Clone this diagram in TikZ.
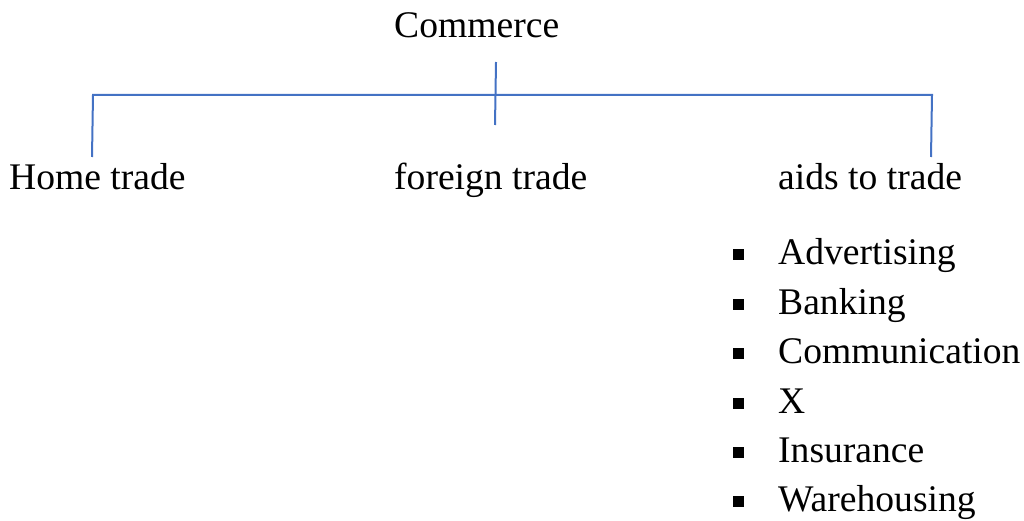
\documentclass[tikz,border=0pt]{standalone}
\usepackage{fontspec}
\setmainfont{Liberation Serif}
\definecolor{lineblue}{RGB}{68,114,196}
\begin{document}
\begin{tikzpicture}[x=1pt,y=-1pt,
  txt/.style={inner sep=0pt, anchor=base west, font=\fontsize{37.6}{44}\selectfont},
  conn/.style={draw=lineblue, line width=2pt},
  bul/.style={fill=black, draw=none, minimum size=11pt, inner sep=0pt}]
\useasboundingbox (0,0) rectangle (1024,521);
\node[txt] (commerce) at (394,38) {Commerce};
\node[txt] (home) at (9,190) {Home trade};
\node[txt] (foreign) at (394,190) {foreign trade};
\node[txt] (aids) at (778,190) {aids to trade};
\coordinate (ctop) at (496,62);
\coordinate (cbot) at (495,125);
\coordinate (hl) at (93,95);
\coordinate (hr) at (932,95);
\coordinate (hbot) at (92,157);
\coordinate (abot) at (931,157);
\draw[conn] (ctop) -- (cbot);
\draw[conn] (hbot) -- (hl) -- (hr) -- (abot);
\foreach \n/\t/\y in {adv/Advertising/264, bank/Banking/314, comm/Communication/363, x/X/413, ins/Insurance/462, ware/Warehousing/511}{
  \node[txt] (\n) at (778,\y) {\t};
  \node[bul] (b\n) at (738,\y-10) {};
}
\end{tikzpicture}
\end{document}
